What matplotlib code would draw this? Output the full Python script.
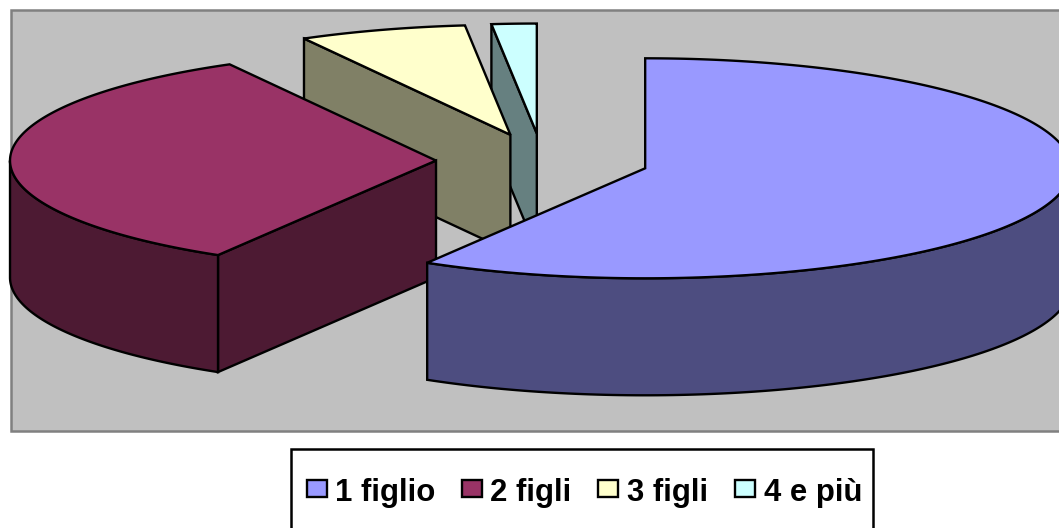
import numpy as np
import matplotlib
matplotlib.use('Agg')
import matplotlib.pyplot as plt
from matplotlib.patches import Polygon, Rectangle

labels = ['1 figlio', '2 figli', '3 figli', '4 e più']
values = [58.55, 33.4, 6.35, 1.7]
top_colors = ['#9999FF', '#993366', '#FFFFCC', '#CCFFFF']
side_colors = ['#4D4D80', '#4D1A33', '#808066', '#668080']

# pie geometry, in pixels
cx, cy = 542.5, 161
rx, ry = 426, 110
explode = 0.25
depth = 117
lw = 1.7

fig = plt.figure(figsize=(10.59, 5.28), dpi=100, facecolor='white')
ax = fig.add_axes([0, 0, 1, 1])
ax.set_xlim(0, 1059)
ax.set_ylim(528, 0)
ax.axis('off')

ax.add_patch(Rectangle((11, 10), 1100, 421, fc='#C0C0C0', ec='#808080', lw=1.8))


def point(x0, y0, theta):
    # theta in degrees, clockwise from 12 o'clock
    t = np.radians(theta)
    return x0 + rx * np.sin(t), y0 - ry * np.cos(t)


def face(pts, color):
    ax.add_patch(Polygon(pts, closed=True, fc=color, ec='black', lw=lw, joinstyle='miter'))


total = sum(values)
ends = np.cumsum(values) / total * 360
starts = ends - np.array(values) / total * 360

# back to front
for i in [3, 2, 1, 0]:
    a, b = starts[i], ends[i]
    mid = np.radians((a + b) / 2)
    x0 = cx + explode * rx * np.sin(mid)
    y0 = cy - explode * ry * np.cos(mid)

    # cut face, only when it looks towards the viewer
    if 180 < a < 360:
        x1, y1 = point(x0, y0, a)
        face([(x0, y0), (x1, y1), (x1, y1 + depth), (x0, y0 + depth)], side_colors[i])

    # outer wall
    w0, w1 = max(a, 90), min(b, 270)
    if w1 > w0:
        th = np.linspace(w0, w1, 120)
        xs, ys = point(x0, y0, th)
        pts = list(zip(xs, ys)) + list(zip(xs[::-1], ys[::-1] + depth))
        face(pts, side_colors[i])

    # top
    th = np.linspace(a, b, 200)
    xs, ys = point(x0, y0, th)
    face([(x0, y0)] + list(zip(xs, ys)), top_colors[i])

# legend
ax.add_patch(Rectangle((291, 449), 582, 120, fc='white', ec='black', lw=1.8))
swatch_x = [307, 462, 598, 735]
text_x = [335, 490, 627, 764]
for i in range(4):
    ax.add_patch(Rectangle((swatch_x[i], 480), 20, 17, fc=top_colors[i], ec='black', lw=1.7))
    ax.text(text_x[i], 489, labels[i], fontsize=22.4, fontweight='bold',
            family='Liberation Sans', va='center_baseline', ha='left', color='black')

fig.savefig('out.png', dpi=100)
